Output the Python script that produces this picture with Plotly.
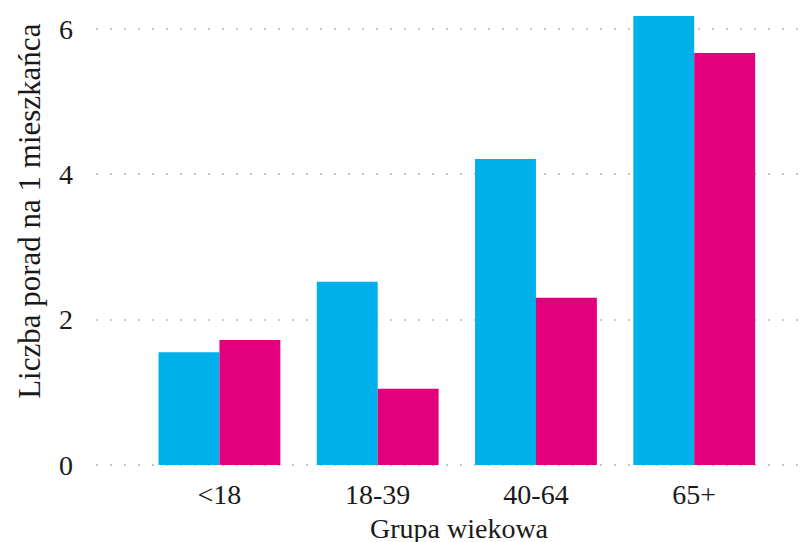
import plotly.graph_objects as go

categories = ["<18", "18-39", "40-64", "65+"]
series_a = [1.55, 2.52, 4.21, 6.18]
series_b = [1.72, 1.05, 2.30, 5.67]
y_ticks = [0, 2, 4, 6]

CYAN = "#00B0EA"
MAGENTA = "#E4007C"
FONT = "Liberation Serif"

fig = go.Figure()
fig.add_trace(go.Bar(x=categories, y=series_a, marker=dict(color=CYAN, line=dict(width=0)), name="a"))
fig.add_trace(go.Bar(x=categories, y=series_b, marker=dict(color=MAGENTA, line=dict(width=0)), name="b"))

fig.update_layout(
    width=810, height=542,
    margin=dict(l=96, r=5, t=5, b=67),
    paper_bgcolor="white", plot_bgcolor="white",
    barmode="group", bargap=0.23, bargroupgap=0,
    showlegend=False,
    font=dict(family=FONT, size=28, color="#1a1a1a"),
    xaxis=dict(
        range=[-0.78, 3.70], showgrid=False, zeroline=False, showline=False,
        ticks="", tickfont=dict(size=28), automargin=False,
    ),
    yaxis=dict(
        range=[-0.138, 6.33], tickvals=y_ticks, ticktext=[str(v) for v in y_ticks],
        showgrid=True, gridcolor="#C4C4C4", gridwidth=2, griddash="2px,12px",
        zeroline=False, showline=False, ticks="", ticklabelstandoff=22,
        tickfont=dict(size=28), automargin=False,
    ),
    annotations=[
        dict(text="Liczba porad na 1 mieszkańca", xref="paper", yref="paper",
             x=-0.093, y=0.56, textangle=-90, showarrow=False,
             xanchor="center", yanchor="middle", font=dict(size=31)),
        dict(text="Grupa wiekowa", xref="paper", yref="paper",
             x=0.513, y=-0.113, showarrow=False,
             xanchor="center", yanchor="middle", font=dict(size=28)),
    ],
)

fig.write_html("out.html", config={"displayModeBar": False},
               post_script="document.body.style.margin='0';")
